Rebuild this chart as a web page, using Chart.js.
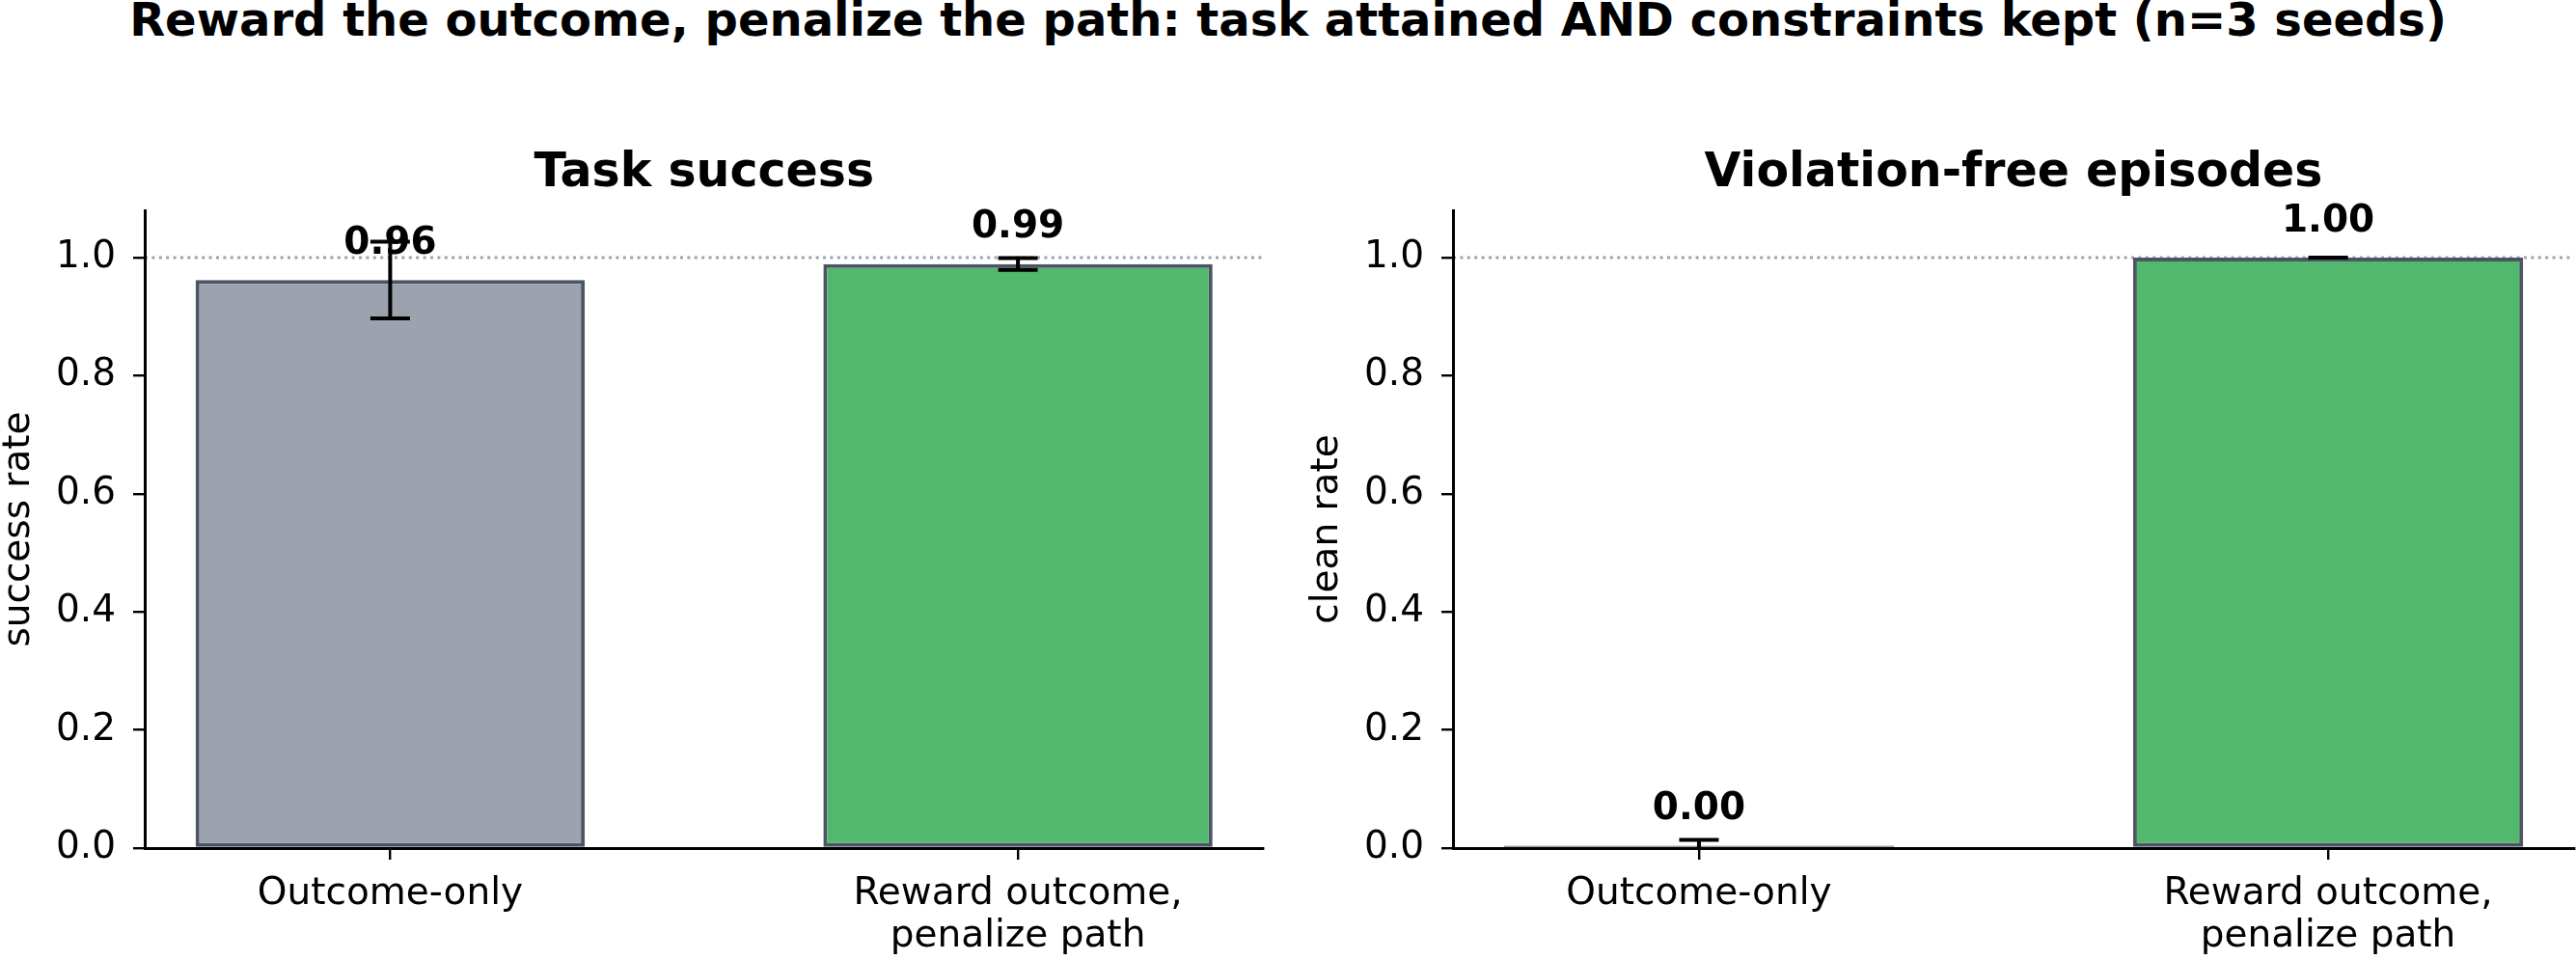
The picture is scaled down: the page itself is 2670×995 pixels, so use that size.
<!DOCTYPE html>
<html>
<head>
<meta charset="utf-8">
<script src="https://cdn.jsdelivr.net/npm/chart.js@4.4.1/dist/chart.umd.min.js"></script>
<style>
  body { margin: 0; background: #fff; width: 2670px; height: 995px; position: relative; overflow: hidden; font-family: "DejaVu Sans"; }
  #titulo { position: absolute; left: 0; top: -6px; width: 2670px; text-align: center; font-weight: bold; font-size: 48px; line-height: 52px; color: #000; }
  canvas { position: absolute; top: 0; }
</style>
</head>
<body>
<div id="titulo">Reward the outcome, penalize the path: task attained AND constraints kept (n=3 seeds)</div>
<canvas id="chartSuccess" width="1335" height="995" style="left:0px"></canvas>
<canvas id="chartClean" width="1314" height="995" style="left:1356px"></canvas>
<script>
// datos
const categories = ["Outcome-only", ["Reward outcome,", "penalize path"]];
const successMean = [0.962, 0.989];
const successErr = [0.065, 0.01];
const cleanMean = [0.004, 1.0];
const cleanErr = [0.01, 0.0];
const yTicks = [0, 0.2, 0.4, 0.6, 0.8, 1.0];
const barColors = ["#9ca3af", "#51b86e"];
const refLine = 1.0;

Chart.defaults.font.family = "DejaVu Sans";
Chart.defaults.color = "#000";

function makeChart(canvasId, title, yLabel, means, errors, padRight) {
  const canvas = document.getElementById(canvasId);

  const extras = {
    id: "extras",
    beforeDatasetsDraw(chart) {
      const { ctx, chartArea, scales } = chart;
      const y = scales.y.getPixelForValue(refLine);
      ctx.save();
      ctx.strokeStyle = "#9ca3af";
      ctx.lineWidth = 3;
      ctx.setLineDash([3, 4.4]);
      ctx.beginPath();
      ctx.moveTo(chartArea.left, y);
      ctx.lineTo(chartArea.right, y);
      ctx.stroke();
      ctx.restore();
    },
    afterDatasetsDraw(chart) {
      const { ctx, chartArea, scales } = chart;
      const bars = chart.getDatasetMeta(0).data;

      // barras de error
      ctx.save();
      ctx.beginPath();
      ctx.rect(chartArea.left, chartArea.top, chartArea.right - chartArea.left, chartArea.bottom - chartArea.top);
      ctx.clip();
      ctx.strokeStyle = "#000";
      ctx.lineWidth = 4;
      bars.forEach((bar, i) => {
        const top = scales.y.getPixelForValue(means[i] + errors[i]);
        const bottom = scales.y.getPixelForValue(means[i] - errors[i]);
        ctx.beginPath();
        ctx.moveTo(bar.x, top);
        ctx.lineTo(bar.x, bottom);
        ctx.moveTo(bar.x - 20.5, top);
        ctx.lineTo(bar.x + 20.5, top);
        ctx.moveTo(bar.x - 20.5, bottom);
        ctx.lineTo(bar.x + 20.5, bottom);
        ctx.stroke();
      });
      ctx.restore();

      // etiquetas de valor y titulo
      ctx.save();
      ctx.fillStyle = "#000";
      ctx.textAlign = "center";
      ctx.textBaseline = "alphabetic";
      ctx.font = "bold 39px 'DejaVu Sans'";
      bars.forEach((bar, i) => {
        const y = scales.y.getPixelForValue(means[i] + 0.03) - 9;
        ctx.fillText(means[i].toFixed(2), bar.x, y);
      });
      ctx.font = "bold 49px 'DejaVu Sans'";
      ctx.fillText(title, (chartArea.left + chartArea.right) / 2, 193);
      ctx.restore();
    }
  };

  return new Chart(canvas, {
    type: "bar",
    data: {
      datasets: [{
        data: means.map((v, i) => ({ x: i, y: v })),
        backgroundColor: barColors,
        borderColor: "#4b5563",
        borderWidth: 4,
        borderSkipped: false,
        barPercentage: 0.62,
        categoryPercentage: 1
      }]
    },
    options: {
      responsive: false,
      animation: false,
      devicePixelRatio: 1,
      layout: { padding: { top: 218, right: padRight, bottom: 0, left: 0 } },
      plugins: { legend: { display: false }, tooltip: { enabled: false } },
      scales: {
        x: {
          type: "linear",
          min: -0.391,
          max: 1.391,
          offset: false,
          grid: { drawOnChartArea: false, offset: false, color: "#000", lineWidth: 2.4, tickLength: 12 },
          border: { color: "#000", width: 3, z: 1 },
          ticks: {
            font: { size: 39, lineHeight: 1.15 },
            color: "#000",
            padding: 13,
            maxRotation: 0,
            autoSkip: false,
            callback: (v) => categories[v]
          },
          afterBuildTicks: (s) => { s.ticks = categories.map((c, i) => ({ value: i })); },
          afterFit: (s) => { s.height = 116; }
        },
        y: {
          min: 0,
          max: 1.08,
          grid: { drawOnChartArea: false, color: "#000", lineWidth: 2.4, tickLength: 12 },
          border: { color: "#000", width: 3, z: 1 },
          ticks: {
            font: { size: 39 },
            color: "#000",
            padding: 18,
            callback: (v) => v.toFixed(1)
          },
          title: { display: true, text: yLabel, font: { size: 39, lineHeight: 1 }, padding: 0, color: "#000" },
          afterBuildTicks: (s) => { s.ticks = yTicks.map((v) => ({ value: v })); },
          afterFit: (s) => { s.width = 150; }
        }
      }
    },
    plugins: [extras]
  });
}

makeChart("chartSuccess", "Task success", "success rate", successMean, successErr, 25.5);
makeChart("chartClean", "Violation-free episodes", "clean rate", cleanMean, cleanErr, 2);
</script>
</body>
</html>
